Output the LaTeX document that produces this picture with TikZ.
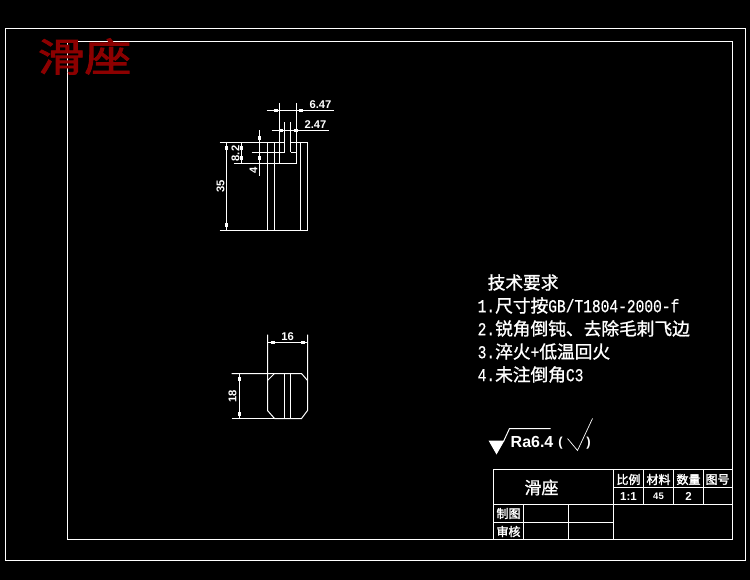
\documentclass[tikz,border=0pt]{standalone}
\usepackage{fontspec}
\newfontfamily\cjk[FakeBold=1.2]{Noto Sans CJK SC}
\newfontfamily\cjkh[FakeBold=2.0]{Noto Sans CJK SC}
\newfontfamily\lat[FakeBold=0.6,FakeStretch=0.8]{Liberation Mono}
\setmainfont{Liberation Sans}
\definecolor{titlered}{RGB}{140,0,0}
\tikzset{
  ln/.style={draw=white,line width=1pt},
  dim/.style={font=\bfseries\fontsize{11.2}{11}\selectfont,text=white,inner sep=0pt},
  req/.style={text=white,anchor=west,inner sep=0pt,font=\fontsize{16}{16}\selectfont},
  cell/.style={text=white,inner sep=0pt,font=\cjkh\fontsize{12}{12}\selectfont},
  val/.style={text=white,inner sep=0pt,font=\bfseries\fontsize{11.5}{11}\selectfont},
}
\newcommand{\htk}[2]{\fill[white] (#1-2,#2-1.5) rectangle (#1+2,#2+1.5);}
\newcommand{\vtk}[2]{\fill[white] (#1-1.5,#2-2) rectangle (#1+1.5,#2+2);}
\newcommand{\LT}[1]{{\lat\fontsize{18.2}{18}\selectfont #1}}
\newcommand{\CT}[1]{{\cjk\fontsize{17.7}{18}\selectfont #1}}
\begin{document}
\begin{tikzpicture}[x=1pt,y=-1pt]
\useasboundingbox (0,0) rectangle (750,580);
\fill[black] (0,0) rectangle (750,580);
\begin{scope}[shift={(0.5,0.5)}]
% frames
\draw[ln] (5,28) rectangle (745,560);
\draw[ln] (67,41) rectangle (732,539);
\node[text=titlered,inner sep=0pt,xscale=1.2,font=\cjkh\fontsize{39}{39}\selectfont] (title) at (84,56) {滑座};
% upper view
\draw[ln] (267,142) -- (267,230);
\draw[ln] (274,142) -- (274,230);
\draw[ln] (300,142) -- (300,230);
\draw[ln] (307,142) -- (307,230);
\draw[ln] (219,142) -- (284,142);
\draw[ln] (290,142) -- (307,142);
\draw[ln] (219,230) -- (307,230);
\draw[ln] (251,152) -- (284,152);
\draw[ln] (290,152) -- (296,152);
\draw[ln] (233,163) -- (296,163);
\draw[ln] (279,103) -- (279,163);
\draw[ln] (296,103) -- (296,163);
\draw[ln] (284,122) -- (284,152);
\draw[ln] (290,122) -- (290,152);
\draw[ln] (266,110) -- (333,110);
\draw[ln] (271,130) -- (328,130);
\draw[ln] (226,142) -- (226,230);
\draw[ln] (241,142) -- (241,163);
\draw[ln] (259,130) -- (259,176);
\htk{275}{110}\htk{300}{110}
\htk{280}{130}\htk{295}{130}
\vtk{226}{148}\vtk{226}{225}
\vtk{241}{148}\vtk{241}{158}
\vtk{259}{138}\vtk{259}{158}
\node[dim] (d647) at (320,104) {6.47};
\node[dim] (d247) at (315,124) {2.47};
\node[dim,rotate=90] (d35) at (220,186) {35};
\node[dim,rotate=90] (d82) at (235,153) {8.2};
\node[dim,rotate=90] (d4) at (253,170) {4};
% lower view
\draw[ln] (267,334) -- (267,410) -- (274,418) -- (301,418) -- (307,410) -- (307,334);
\draw[ln] (231,373) -- (301,373) -- (307,380);
\draw[ln] (267,380) -- (274,373);
\draw[ln] (231,418) -- (274,418);
\draw[ln] (284,373) -- (284,418);
\draw[ln] (290,373) -- (290,418);
\draw[ln] (267,342) -- (307,342);
\draw[ln] (239,373) -- (239,418);
\htk{272}{342}\htk{302}{342}
\vtk{239}{378}\vtk{239}{413}
\node[dim] (d16) at (287,336) {16};
\node[dim,rotate=90] (d18) at (232,396) {18};
% requirements
\node[req] (r0) at (487,282) {\CT{技术要求}};
\node[req] (r1) at (477,305) {\LT{1.}\CT{尺寸按}\LT{GB/T1804-2000-f}};
\node[req] (r2) at (477,328) {\LT{2.}\CT{锐角倒钝、去除毛刺飞边}};
\node[req] (r3) at (477,351) {\LT{3.}\CT{淬火}\LT{+}\CT{低温回火}};
\node[req] (r4) at (477,374) {\LT{4.}\CT{未注倒角}\LT{C3}};
% roughness
\fill[white] (488,440) -- (504,440) -- (496,454) -- cycle;
\draw[ln] (503,441) -- (509,428) -- (550,428);
\node[text=white,inner sep=0pt,anchor=west,font=\bfseries\fontsize{16}{16}\selectfont] (ra) at (510,441) {Ra6.4};
\node[text=white,inner sep=0pt,font=\bfseries\fontsize{13}{13}\selectfont] (pl) at (560,443) {(};
\node[text=white,inner sep=0pt,font=\bfseries\fontsize{13}{13}\selectfont] (pr) at (588,443) {)};
\draw[draw=white,line width=0.7pt] (567,438) -- (577,450) -- (592,418);
% title block
\draw[ln] (493,469) rectangle (732,539);
\draw[ln] (613,487) -- (732,487);
\draw[ln] (493,504) -- (732,504);
\draw[ln] (493,522) -- (613,522);
\draw[ln] (523,504) -- (523,539);
\draw[ln] (568,504) -- (568,539);
\draw[ln] (613,469) -- (613,539);
\draw[ln] (643,469) -- (643,504);
\draw[ln] (673,469) -- (673,504);
\draw[ln] (703,469) -- (703,504);
\node[text=white,inner sep=0pt,font=\cjk\fontsize{17}{17}\selectfont] (name) at (541,487) {滑座};
\node[cell] (c1) at (628,479) {比例};
\node[cell] (c2) at (658,479) {材料};
\node[cell] (c3) at (688,479) {数量};
\node[cell] (c4) at (717,479) {图号};
\node[val] (v1) at (628,496) {1:1};
\node[val,font=\bfseries\fontsize{9.5}{9}\selectfont] (v2) at (658,496) {45};
\node[val] (v3) at (688,496) {2};
\node[cell] (c5) at (508,513) {制图};
\node[cell] (c6) at (508,531) {审核};
\end{scope}
\end{tikzpicture}
\end{document}
